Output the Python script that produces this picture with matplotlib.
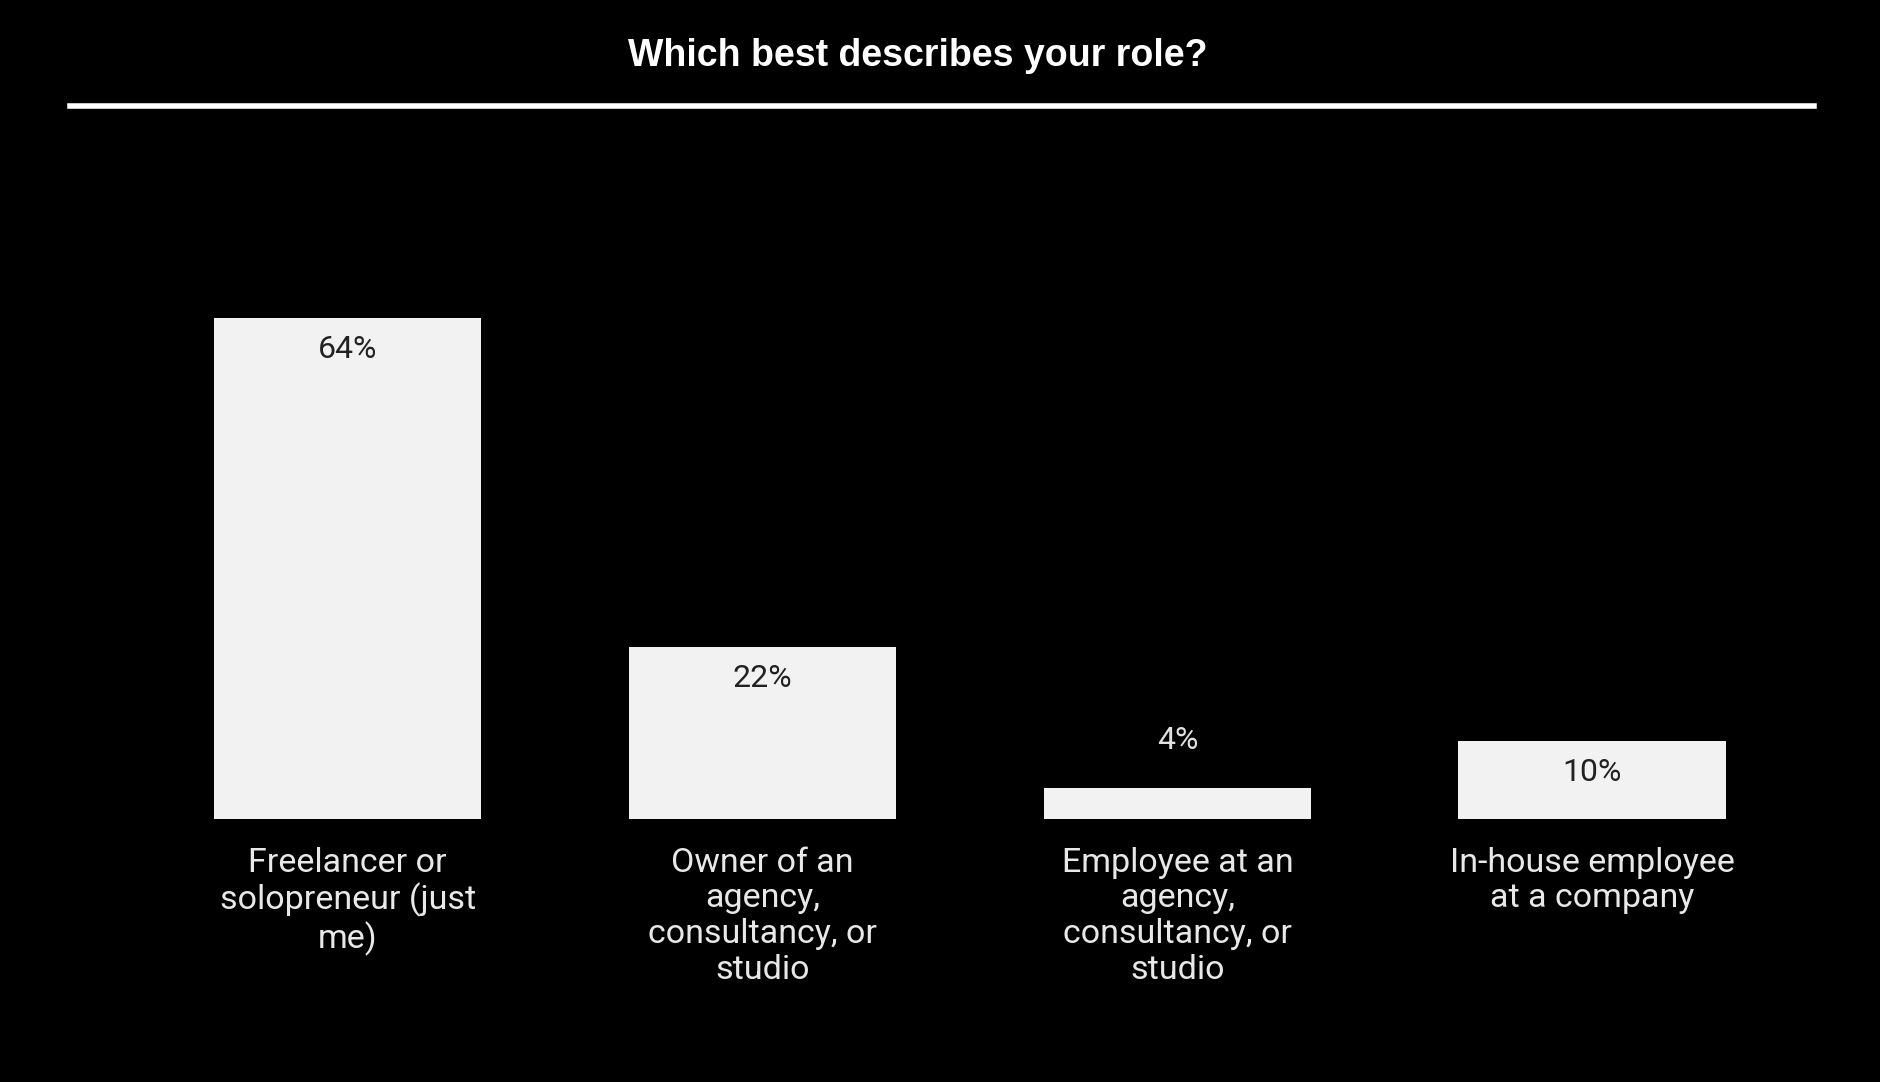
import matplotlib.pyplot as plt
from matplotlib.lines import Line2D

categories = ["Freelancer or\nsolopreneur (just\nme)",
              "Owner of an\nagency,\nconsultancy, or\nstudio",
              "Employee at an\nagency,\nconsultancy, or\nstudio",
              "In-house employee\nat a company"]
values = [64, 22, 4, 10]

fig = plt.figure(figsize=(18.8, 10.82), dpi=100, facecolor="black")
ax = fig.add_axes([0.0746, 0.2428, 0.8827, 0.5067], facecolor="black")
x = list(range(len(values)))
ax.bar(x, values, width=0.645, color="#f2f2f2")
ax.set_xlim(-0.5, 3.5)
ax.set_ylim(0, 70)
ax.axis("off")

for xi, v in zip(x, values):
    if v >= 8:
        ax.text(xi, v - 2.2, f"{v}%", ha="center", va="top", color="#222222",
                fontsize=23, family="Roboto")
    else:
        ax.text(xi, v + 6.0, f"{v}%", ha="center", va="center", color="#e0e0e0",
                fontsize=23, family="Roboto")
    ax.text(xi, -3.5, categories[xi], ha="center", va="top", color="#e8e8e8",
            fontsize=24.5, family="Roboto", linespacing=1.15)

fig.text(0.488, 0.948, "Which best describes your role?", ha="center", va="center",
         color="white", fontsize=27, fontweight="bold", family="Liberation Sans")
fig.add_artist(Line2D([0.037, 0.965], [0.902, 0.902], color="white", lw=4,
                      transform=fig.transFigure))

fig.savefig("out.png", dpi=100, facecolor="black")
